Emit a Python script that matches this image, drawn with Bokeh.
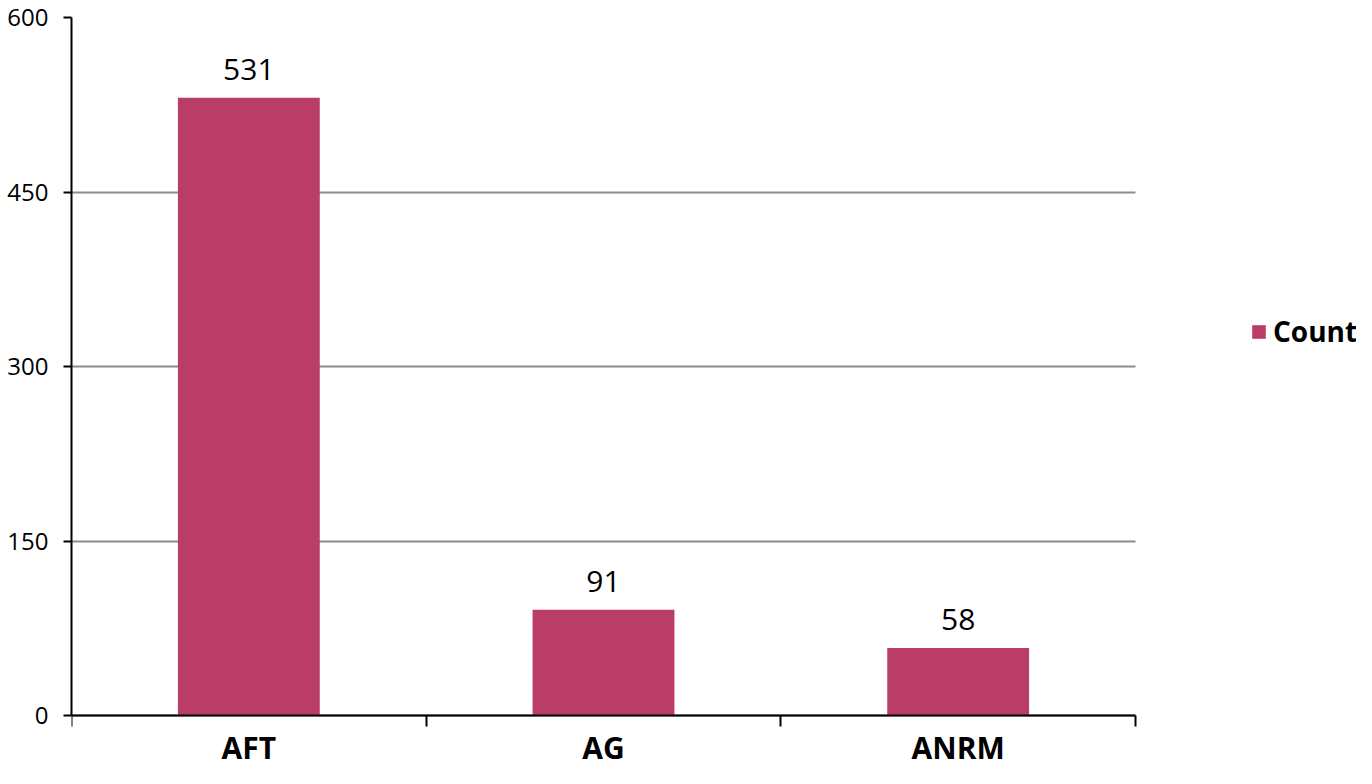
from bokeh.plotting import figure
from bokeh.models import (ColumnDataSource, Range1d, LinearAxis, FixedTicker,
                          LabelSet, Legend, LegendItem)
from bokeh.core.properties import value
from bokeh.embed import file_html
from bokeh.resources import INLINE

categories = ["AFT", "AG", "ANRM"]
counts = [531, 91, 58]
y_ticks = [0, 150, 300, 450, 600]
series_name = "Count"

BAR = "#BA3D68"
FONT = "Open Sans"

# layout (pixels)
W, H = 1356, 768
LEFT, TOP = 71, 17          # frame left / top edge
ZERO_Y = 715                # pixel row of value 0
CAT_RIGHT = 1135            # pixel column where the category axis ends

n = len(categories)
y_max = y_ticks[-1]
y_start = -y_max * (H - ZERO_Y) / (ZERO_Y - TOP)
x_end = n * (W - LEFT) / (CAT_RIGHT - LEFT)

xpos = [i + 0.5 for i in range(n)]
src = ColumnDataSource(dict(x=xpos, top=counts, label=[str(v) for v in counts]))

p = figure(width=W, height=H, output_backend="svg", toolbar_location=None,
           x_range=Range1d(0, x_end), y_range=Range1d(y_start, y_max),
           x_axis_location=None, y_axis_location=None,
           min_border_left=LEFT, min_border_right=0, min_border_top=TOP,
           min_border_bottom=0)
p.outline_line_color = None
p.background_fill_color = "white"
p.border_fill_color = "white"

r = p.vbar(x="x", top="top", width=0.4, bottom=0, source=src,
           fill_color=BAR, line_color=None)

# y axis
yax = LinearAxis(ticker=FixedTicker(ticks=y_ticks, minor_ticks=[]),
                 bounds=(0, y_max))
yax.axis_line_color = "black"
yax.axis_line_width = 2
yax.major_tick_line_color = "black"
yax.major_tick_line_width = 2
yax.major_tick_in = 0
yax.major_tick_out = 8
yax.minor_tick_line_color = None
yax.major_label_text_font = FONT
yax.major_label_text_font_size = "24px"
yax.major_label_text_color = "black"
yax.major_label_standoff = 15
p.add_layout(yax, "left")

# x axis at value 0: labels at category centers, ticks at category boundaries
xax = LinearAxis(ticker=FixedTicker(ticks=xpos, minor_ticks=list(range(n + 1))),
                 bounds=(0, n), fixed_location=0)
xax.major_label_overrides = {x: c for x, c in zip(xpos, categories)}
xax.axis_line_color = "black"
xax.axis_line_width = 2
xax.major_tick_line_color = None
xax.major_tick_in = 0
xax.major_tick_out = 0
xax.minor_tick_line_color = "black"
xax.minor_tick_line_width = 2
xax.minor_tick_in = 0
xax.minor_tick_out = 11
xax.major_label_text_font = FONT
xax.major_label_text_font_size = "30px"
xax.major_label_text_font_style = "bold"
xax.major_label_text_color = "black"
xax.major_label_standoff = 0
p.add_layout(xax, "below")

p.xgrid.visible = False
p.ygrid.grid_line_color = "#8C8C8C"
p.ygrid.grid_line_width = 2
p.ygrid[0].ticker = FixedTicker(ticks=y_ticks)
p.ygrid[0].cross_bounds = (0, n)

labels = LabelSet(x="x", y="top", text="label", source=src, y_offset=18,
                  text_align="center", text_baseline="bottom",
                  text_font=value(FONT), text_font_size="30px", text_color="black")
p.add_layout(labels)

legend = Legend(items=[LegendItem(label=series_name, renderers=[r])],
                location=(1179, H - 350))
legend.glyph_width = 17
legend.glyph_height = 17
legend.label_text_font = FONT
legend.label_text_font_size = "28px"
legend.label_text_font_style = "bold"
legend.label_text_color = "black"
legend.label_standoff = 6
legend.padding = 0
legend.margin = 0
legend.border_line_color = None
legend.background_fill_alpha = 0
p.add_layout(legend, "center")

open("out.html", "w").write(file_html(p, INLINE))
